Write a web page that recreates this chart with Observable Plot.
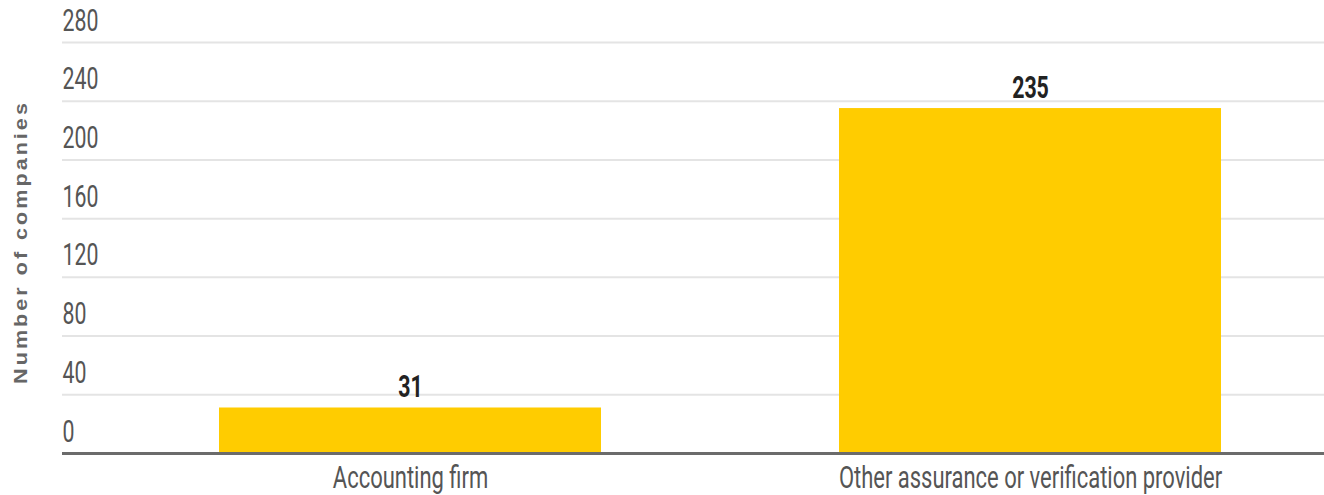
<!DOCTYPE html>
<html>
<head>
<meta charset="utf-8">
<script src="https://cdn.jsdelivr.net/npm/d3@7"></script>
<script src="https://cdn.jsdelivr.net/npm/@observablehq/plot@0.6"></script>
<style>
  html, body { margin: 0; padding: 0; background: #fff; }
  #chart svg { display: block; }
</style>
</head>
<body>
<div id="chart"></div>
<script>
const categories = ["Accounting firm", "Other assurance or verification provider"];
const values = [31, 235];
const yTicks = [0, 40, 80, 120, 160, 200, 240, 280];
const yTitle = "Number of companies";

const data = categories.map((c, i) => ({category: c, value: values[i]}));
const font = "Roboto, 'Liberation Sans', sans-serif";

const chart = Plot.plot({
  width: 1324,
  height: 495,
  marginLeft: 62,
  marginRight: 0,
  marginTop: 42,
  marginBottom: 42,
  style: {background: "#fff", overflow: "visible"},
  x: {domain: categories, range: [100, 1340], paddingInner: 0.384, paddingOuter: 0.192, label: null, axis: null},
  y: {domain: [0, 280], label: null, axis: null},
  marks: [
    Plot.ruleY(yTicks.filter(d => d > 0), {y: d => d, stroke: "#e4e4e4", strokeWidth: 2}),
    Plot.barY(data, {x: "category", y: "value", fill: "#FFCC00"}),
    Plot.ruleY([0], {stroke: "#6b6b6b", strokeWidth: 3}),
    Plot.text(yTicks, {y: d => d, text: d => String(d), frameAnchor: "left", textAnchor: "start", lineAnchor: "bottom", dy: -12,
      fill: "#555", fontSize: 26, fontFamily: font, className: "cond"}),
    Plot.text(data, {x: "category", y: "value", text: d => String(d.value), lineAnchor: "bottom", dy: -11,
      fill: "#222", fontSize: 26, fontWeight: "bold", fontFamily: font, className: "cond"}),
    Plot.text(data, {x: "category", text: "category", frameAnchor: "bottom", lineAnchor: "bottom", dy: 34,
      fill: "#555", fontSize: 26, fontFamily: font, className: "condx"}),
    Plot.text([yTitle], {text: d => d, frameAnchor: "left", dx: -41, dy: -6, rotate: -90,
      fill: "#666", fontSize: 18, fontWeight: "bold", fontFamily: "'Liberation Sans', Arial, sans-serif",
      textAnchor: "middle", className: "ytitle"})
  ]
});
// condensed, slightly tall look of the reference typography
d3.select(chart).selectAll("g.cond text").each(function() {
  const t = this.getAttribute("transform") || "";
  this.setAttribute("transform", t + " scale(0.82,1.2)");
});
d3.select(chart).selectAll("g.condx text").each(function() {
  const t = this.getAttribute("transform") || "";
  this.setAttribute("transform", t + " scale(0.845,1.2)");
});
d3.select(chart).selectAll("g.ytitle text").each(function() {
  const t = this.getAttribute("transform") || "";
  this.setAttribute("transform", t + " scale(1.2,1)");
  this.style.letterSpacing = "2.5px";
});
document.getElementById("chart").appendChild(chart);
</script>
</body>
</html>
